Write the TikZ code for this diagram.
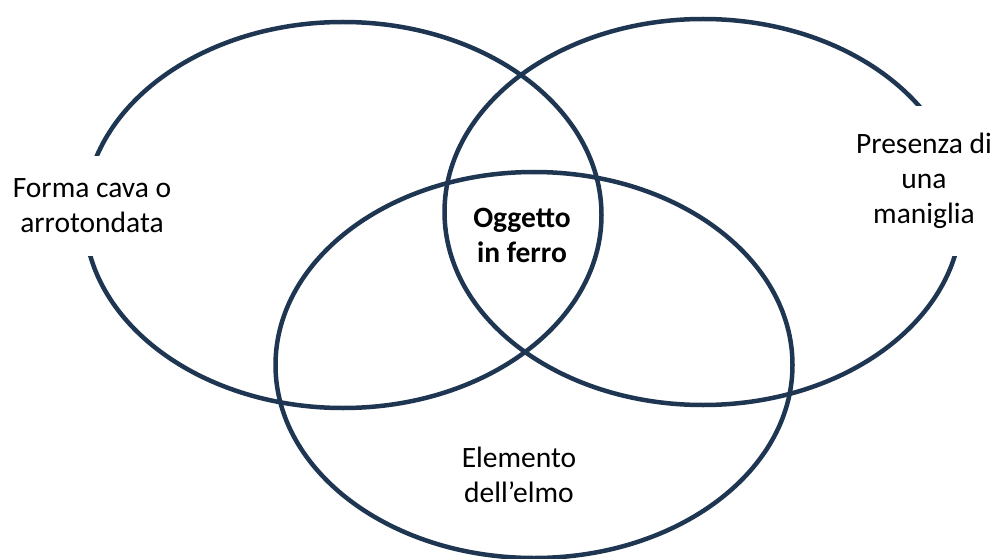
\documentclass[tikz,border=0pt]{standalone}
\usepackage{fontspec}
\setmainfont{Carlito}
\usetikzlibrary{shapes.geometric}
\definecolor{vennblue}{HTML}{1E3652}

\tikzset{
  setring/.style={ellipse, draw=vennblue, line width=4.5pt, inner sep=0pt,
    minimum width=517pt, minimum height=386pt},
  setlabel/.style={align=center, font=\fontsize{29.5}{35}\selectfont},
  cutlabel/.style={setlabel, fill=white, inner sep=0pt},
}

\begin{document}
\begin{tikzpicture}[x=1pt,y=-1pt]
    \useasboundingbox (0,0) rectangle (999,559);
    % the three sets
    \node[setring] (forma)    at (343,215) {};
    \node[setring] (maniglia) at (703,212) {};
    \node[setring] (elmo)     at (534,365) {};
    % labels
    \node[cutlabel, minimum width=172pt, minimum height=100pt] (formaL) at (92,206) {Forma cava o\\arrotondata};
    \node[cutlabel, minimum width=140pt, minimum height=150pt] (manigliaL) at (924,181) {Presenza di\\una\\maniglia};
    \node[setlabel] (elmoL) at (519,475) {Elemento\\dell’elmo};
    \node[setlabel, font=\fontsize{29.5}{35}\selectfont\bfseries] (ferroL) at (522,235) {Oggetto\\in ferro};
\end{tikzpicture}
\end{document}
